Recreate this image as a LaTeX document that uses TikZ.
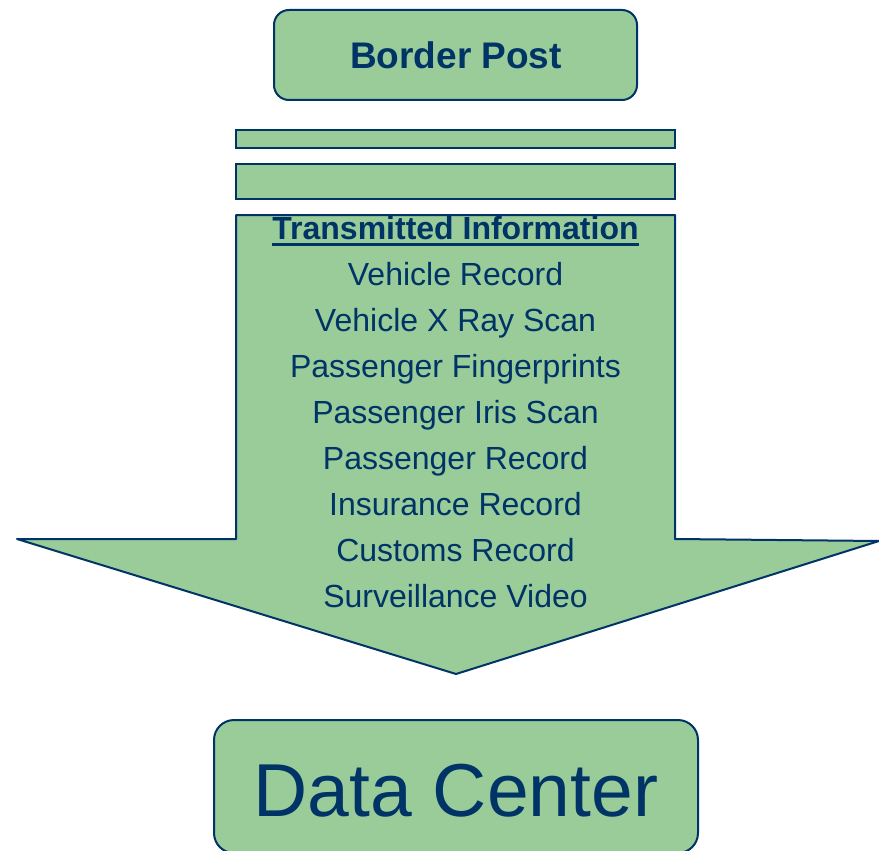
\documentclass[tikz,border=0pt]{standalone}
\usepackage{fontspec}
\setmainfont{Liberation Sans}
\definecolor{navy}{HTML}{003366}
\definecolor{leaf}{HTML}{99CC99}
\begin{document}
\begin{tikzpicture}[x=1pt,y=-1pt,
  shapeline/.style={draw=navy,fill=leaf,line width=2pt,line join=round},
  listtext/.style={text=navy,font=\fontsize{32}{32}\selectfont,anchor=base,inner sep=0pt}]
\useasboundingbox (0,0) rectangle (879,851);
% Border Post box
\node[shapeline,rounded corners=15pt,minimum width=363pt,minimum height=90pt,inner sep=0pt] (bp) at (455.5,55) {};
\node[text=navy,font=\fontsize{37}{37}\selectfont\bfseries,anchor=base,inner sep=0pt] (bpt) at (456,69) {Border Post};
% bars
\draw[shapeline,line join=miter] (236,130) rectangle (675,148);
\draw[shapeline,line join=miter] (236,164) rectangle (675,199);
% arrow
\draw[shapeline] (236,215) -- (675,215) -- (675,539) -- (879,541) -- (456,674) -- (17,539) -- (236,539) -- cycle;
% list
\node[listtext,font=\fontsize{32}{32}\selectfont\bfseries] (ti) at (455.5,239) {Transmitted Information};
\draw[navy,line width=3pt] ([yshift=-5.5pt]ti.base west) -- ([yshift=-5.5pt]ti.base east);
\node[listtext] (l1) at (455.5,285) {Vehicle Record};
\node[listtext] (l2) at (455.5,331) {Vehicle X Ray Scan};
\node[listtext] (l3) at (455.5,377) {Passenger Fingerprints};
\node[listtext] (l4) at (455.5,423) {Passenger Iris Scan};
\node[listtext] (l5) at (455.5,469) {Passenger Record};
\node[listtext] (l6) at (455.5,515) {Insurance Record};
\node[listtext] (l7) at (455.5,561) {Customs Record};
\node[listtext] (l8) at (455.5,607) {Surveillance Video};
% Data Center box
\draw[shapeline,rounded corners=20pt] (214,720) rectangle (698,853);
\node[text=navy,font=\fontsize{75}{75}\selectfont,anchor=base,inner sep=0pt] (dc) at (456,816) {Data Center};
\end{tikzpicture}
\end{document}
